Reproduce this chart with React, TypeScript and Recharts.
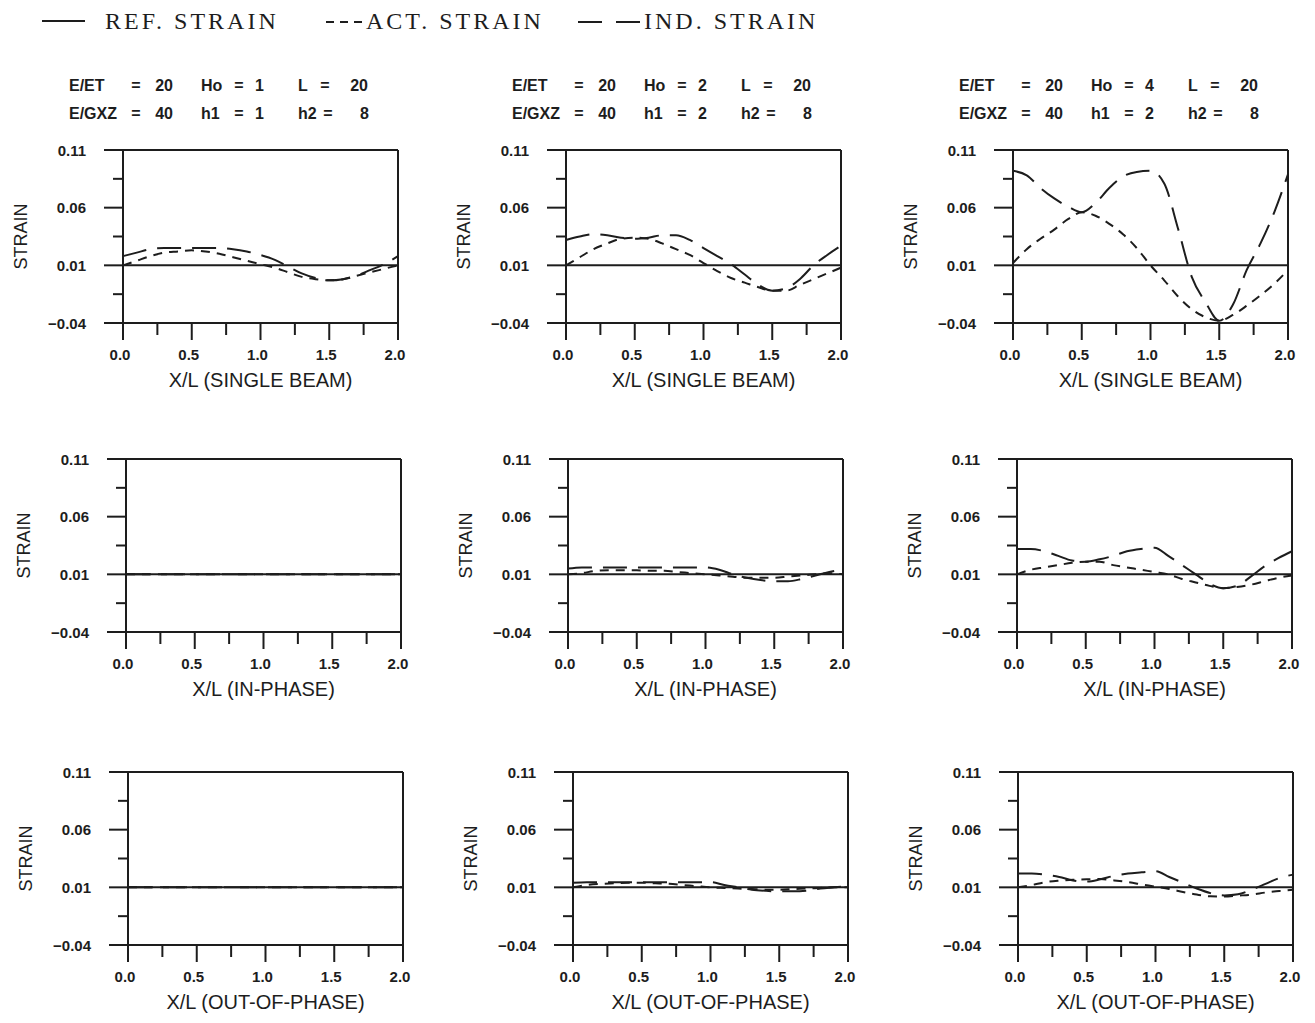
import React from "react";
import { LineChart, Line, XAxis, YAxis, ReferenceLine } from "recharts";

// x/L stations
const xl = [0, 0.1, 0.2, 0.3, 0.4, 0.5, 0.6, 0.7, 0.8, 0.9, 1.0, 1.1, 1.2, 1.3, 1.4, 1.5, 1.6, 1.7, 1.8, 1.9, 2.0];

const refStrain = [0.01, 0.01, 0.01, 0.01, 0.01, 0.01, 0.01, 0.01, 0.01, 0.01, 0.01, 0.01, 0.01, 0.01, 0.01, 0.01, 0.01, 0.01, 0.01, 0.01, 0.01];

// single beam
const actSingle1 = [0.010, 0.014, 0.018, 0.021, 0.022, 0.023, 0.022, 0.020, 0.017, 0.014, 0.011, 0.008, 0.004, 0.000, -0.002, -0.003, -0.002, 0.001, 0.004, 0.007, 0.010];
const indSingle1 = [0.018, 0.021, 0.024, 0.025, 0.025, 0.025, 0.025, 0.025, 0.024, 0.022, 0.019, 0.015, 0.009, 0.003, -0.001, -0.003, -0.002, 0.001, 0.006, 0.011, 0.018];
const actSingle2 = [0.010, 0.017, 0.024, 0.029, 0.033, 0.034, 0.033, 0.029, 0.024, 0.019, 0.012, 0.005, -0.001, -0.005, -0.009, -0.012, -0.012, -0.007, -0.002, 0.003, 0.008];
const indSingle2 = [0.032, 0.035, 0.037, 0.036, 0.034, 0.033, 0.034, 0.036, 0.036, 0.032, 0.025, 0.018, 0.011, 0.002, -0.007, -0.012, -0.010, -0.002, 0.010, 0.019, 0.027];
const actSingle3 = [0.012, 0.024, 0.033, 0.041, 0.050, 0.056, 0.053, 0.046, 0.037, 0.025, 0.010, -0.003, -0.017, -0.028, -0.035, -0.038, -0.033, -0.025, -0.016, -0.006, 0.006];
const indSingle3 = [0.092, 0.088, 0.077, 0.068, 0.061, 0.056, 0.064, 0.077, 0.087, 0.091, 0.092, 0.081, 0.042, 0.000, -0.022, -0.038, -0.024, 0.006, 0.029, 0.056, 0.089];

// in-phase
const actIn1 = [0.01, 0.01, 0.01, 0.01, 0.01, 0.01, 0.01, 0.01, 0.01, 0.01, 0.01, 0.01, 0.01, 0.01, 0.01, 0.01, 0.01, 0.01, 0.01, 0.01, 0.01];
const indIn1 = [0.01, 0.01, 0.01, 0.01, 0.01, 0.01, 0.01, 0.01, 0.01, 0.01, 0.01, 0.01, 0.01, 0.01, 0.01, 0.01, 0.01, 0.01, 0.01, 0.01, 0.01];
const actIn2 = [0.010, 0.011, 0.013, 0.0135, 0.0135, 0.0135, 0.013, 0.013, 0.012, 0.011, 0.010, 0.009, 0.008, 0.007, 0.007, 0.007, 0.008, 0.009, 0.010, 0.011, 0.010];
const indIn2 = [0.015, 0.016, 0.016, 0.016, 0.016, 0.016, 0.016, 0.016, 0.016, 0.016, 0.016, 0.014, 0.010, 0.007, 0.005, 0.004, 0.004, 0.006, 0.009, 0.012, 0.014];
const actIn3 = [0.010, 0.014, 0.016, 0.018, 0.020, 0.021, 0.021, 0.018, 0.016, 0.014, 0.012, 0.010, 0.006, 0.003, 0.000, -0.002, -0.001, 0.001, 0.004, 0.007, 0.009];
const indIn3 = [0.032, 0.032, 0.030, 0.026, 0.022, 0.021, 0.023, 0.026, 0.030, 0.032, 0.033, 0.026, 0.018, 0.010, 0.002, -0.002, 0.000, 0.008, 0.017, 0.024, 0.030];

// out-of-phase
const actOut1 = [0.01, 0.01, 0.01, 0.01, 0.01, 0.01, 0.01, 0.01, 0.01, 0.01, 0.01, 0.01, 0.01, 0.01, 0.01, 0.01, 0.01, 0.01, 0.01, 0.01, 0.01];
const indOut1 = [0.01, 0.01, 0.01, 0.01, 0.01, 0.01, 0.01, 0.01, 0.01, 0.01, 0.01, 0.01, 0.01, 0.01, 0.01, 0.01, 0.01, 0.01, 0.01, 0.01, 0.01];
const actOut2 = [0.010, 0.012, 0.013, 0.0135, 0.014, 0.014, 0.0135, 0.013, 0.012, 0.011, 0.010, 0.0095, 0.009, 0.0085, 0.008, 0.008, 0.0085, 0.009, 0.0095, 0.010, 0.010];
const indOut2 = [0.014, 0.0145, 0.0145, 0.0145, 0.0145, 0.0145, 0.0145, 0.0145, 0.0145, 0.0145, 0.0145, 0.012, 0.010, 0.008, 0.007, 0.0065, 0.0065, 0.007, 0.009, 0.010, 0.011];
const actOut3 = [0.010, 0.012, 0.0145, 0.0158, 0.0166, 0.017, 0.0172, 0.016, 0.0145, 0.0125, 0.0105, 0.0085, 0.006, 0.0037, 0.0022, 0.002, 0.0028, 0.0037, 0.0055, 0.0068, 0.008];
const indOut3 = [0.022, 0.022, 0.021, 0.019, 0.016, 0.015, 0.017, 0.020, 0.022, 0.023, 0.024, 0.019, 0.014, 0.009, 0.005, 0.003, 0.004, 0.008, 0.013, 0.018, 0.021];

// axis ticks / labels
const xTicks = [0, 0.25, 0.5, 0.75, 1, 1.25, 1.5, 1.75, 2];
const xTickLabels = ["0.0", "", "0.5", "", "1.0", "", "1.5", "", "2.0"];
const yTicks = [-0.04, -0.015, 0.01, 0.035, 0.06, 0.085, 0.11];
const yTickLabels = ["\u22120.04", "", "0.01", "", "0.06", "", "0.11"];
const xTitles = ["X/L (SINGLE BEAM)", "X/L (IN-PHASE)", "X/L (OUT-OF-PHASE)"];

// parameters above each column
const eEt = [20, 20, 20];
const hO = [1, 2, 4];
const lVal = [20, 20, 20];
const eGxz = [40, 40, 40];
const h1 = [1, 2, 2];
const h2 = [8, 8, 8];

const seriesGrid = [
    [[actSingle1, indSingle1], [actSingle2, indSingle2], [actSingle3, indSingle3]],
    [[actIn1, indIn1], [actIn2, indIn2], [actIn3, indIn3]],
    [[actOut1, indOut1], [actOut2, indOut2], [actOut3, indOut3]],
];

// layout (the scan is slightly skewed, so lower rows sit a bit to the right)
const plotLefts = [
    [123, 566, 1013],
    [126, 568, 1017],
    [128, 573, 1018],
];
const plotTops = [150, 459, 772];
const PW = 275;
const PH = 173;
const Y_W = 110;
const M_LEFT = 5;
const M_TOP = 10;
const M_RIGHT = 12;
const X_H = 70;

const INK = "#1d1d1d";
const SANS = "'Liberation Sans', Arial, sans-serif";

const XTick = (props: any) => {
    const { x, y, payload } = props;
    const i = xTicks.findIndex((t) => Math.abs(t - payload.value) < 1e-6);
    const major = i % 2 === 0;
    return (
        <g>
            <line x1={x} y1={y} x2={x} y2={y + (major ? 17 : 12)} stroke={INK} strokeWidth={2} />
            {major && (
                <text x={x - 3} y={y + 31} textAnchor="middle" dominantBaseline="central"
                    fontFamily={SANS} fontSize={15} fontWeight="bold" fill={INK}>
                    {xTickLabels[i]}
                </text>
            )}
        </g>
    );
};

const YTick = (props: any) => {
    const { x, y, payload } = props;
    const i = yTicks.findIndex((t) => Math.abs(t - payload.value) < 1e-6);
    const major = i % 2 === 0;
    return (
        <g>
            <line x1={x - (major ? 19 : 10)} y1={y} x2={x} y2={y} stroke={INK} strokeWidth={2} />
            {major && (
                <text x={x - 37} y={y} textAnchor="end" dominantBaseline="central"
                    fontFamily={SANS} fontSize={15} fontWeight="bold" fill={INK}>
                    {yTickLabels[i]}
                </text>
            )}
        </g>
    );
};

const strainLabel = (props: any) => {
    const vb = props.viewBox || { x: M_LEFT, y: M_TOP, width: Y_W, height: PH };
    const cx = vb.x + vb.width - 102;
    const cy = vb.y + vb.height / 2;
    return (
        <text x={cx} y={cy} transform={`rotate(-90, ${cx}, ${cy})`} textAnchor="middle"
            dominantBaseline="central" fontFamily={SANS} fontSize={18} fill={INK}>
            STRAIN
        </text>
    );
};

const xTitle = (title: string) => (props: any) => {
    const vb = props.viewBox || { x: M_LEFT + Y_W, y: M_TOP + PH, width: PW, height: X_H };
    return (
        <text x={vb.x + vb.width / 2} y={vb.y + 57} textAnchor="middle" dominantBaseline="central"
            fontFamily={SANS} fontSize={20} fill={INK}>
            {title}
        </text>
    );
};

function Panel({ row, col }: { row: number; col: number }) {
    const [act, ind] = seriesGrid[row][col];
    const rows = xl.map((x, i) => ({ x, ref: refStrain[i], act: act[i], ind: ind[i] }));
    const left = plotLefts[row][col] - M_LEFT - Y_W;
    const top = plotTops[row] - M_TOP;
    return (
        <div style={{ position: "absolute", left, top }}>
            <LineChart
                width={M_LEFT + Y_W + PW + M_RIGHT}
                height={M_TOP + PH + X_H + 2}
                data={rows}
                margin={{ top: M_TOP, right: M_RIGHT, bottom: 2, left: M_LEFT }}
            >
                <XAxis
                    type="number"
                    dataKey="x"
                    domain={[0, 2]}
                    ticks={xTicks}
                    interval={0}
                    tickSize={0}
                    tickMargin={0}
                    tickLine={false}
                    tick={XTick}
                    axisLine={{ stroke: INK, strokeWidth: 2 }}
                    height={X_H}
                    label={xTitle(xTitles[row])}
                />
                <YAxis
                    type="number"
                    domain={[-0.04, 0.11]}
                    ticks={yTicks}
                    interval={0}
                    allowDataOverflow
                    width={Y_W}
                    tickSize={0}
                    tickMargin={0}
                    tickLine={false}
                    tick={YTick}
                    axisLine={{ stroke: INK, strokeWidth: 2 }}
                    label={strainLabel}
                />
                <ReferenceLine y={0.11} stroke={INK} strokeWidth={2} />
                <ReferenceLine x={2} stroke={INK} strokeWidth={2} />

                {/* reference strain: solid */}
                <Line type="monotone" dataKey="ref" stroke={INK} strokeWidth={2}
                    dot={false} activeDot={false} isAnimationActive={false} />
                {/* actual strain: short dashes */}
                <Line type="monotone" dataKey="act" stroke={INK} strokeWidth={2} strokeDasharray="9 7"
                    dot={false} activeDot={false} isAnimationActive={false} />
                {/* induced strain: long dashes */}
                <Line type="monotone" dataKey="ind" stroke={INK} strokeWidth={2} strokeDasharray="24 11"
                    dot={false} activeDot={false} isAnimationActive={false} />
            </LineChart>
        </div>
    );
}

function Params({ col }: { col: number }) {
    const p = plotLefts[0][col];
    const t = { fontFamily: SANS, fontSize: 16, fontWeight: "bold" as const, fill: INK };
    return (
        <g>
            <text x={p - 54} y={85} dominantBaseline="central" {...t}>E/ET</text>
            <text x={p + 13} y={85} textAnchor="middle" dominantBaseline="central" {...t}>=</text>
            <text x={p + 50} y={85} textAnchor="end" dominantBaseline="central" {...t}>{eEt[col]}</text>
            <text x={p + 78} y={85} dominantBaseline="central" {...t}>Ho</text>
            <text x={p + 116} y={85} textAnchor="middle" dominantBaseline="central" {...t}>=</text>
            <text x={p + 141} y={85} textAnchor="end" dominantBaseline="central" {...t}>{hO[col]}</text>
            <text x={p + 175} y={85} dominantBaseline="central" {...t}>L</text>
            <text x={p + 202} y={85} textAnchor="middle" dominantBaseline="central" {...t}>=</text>
            <text x={p + 245} y={85} textAnchor="end" dominantBaseline="central" {...t}>{lVal[col]}</text>

            <text x={p - 54} y={113} dominantBaseline="central" {...t}>E/GXZ</text>
            <text x={p + 13} y={113} textAnchor="middle" dominantBaseline="central" {...t}>=</text>
            <text x={p + 50} y={113} textAnchor="end" dominantBaseline="central" {...t}>{eGxz[col]}</text>
            <text x={p + 78} y={113} dominantBaseline="central" {...t}>h1</text>
            <text x={p + 116} y={113} textAnchor="middle" dominantBaseline="central" {...t}>=</text>
            <text x={p + 141} y={113} textAnchor="end" dominantBaseline="central" {...t}>{h1[col]}</text>
            <text x={p + 175} y={113} dominantBaseline="central" {...t}>h2</text>
            <text x={p + 205} y={113} textAnchor="middle" dominantBaseline="central" {...t}>=</text>
            <text x={p + 246} y={113} textAnchor="end" dominantBaseline="central" {...t}>{h2[col]}</text>
        </g>
    );
}

export default function App() {
    // typewriter-like serif for the legend line
    const typed = { fontFamily: "'Liberation Serif', 'DejaVu Serif', serif", fontSize: 24, letterSpacing: 3, fill: INK };
    return (
        <div style={{ position: "absolute", left: 0, top: 0, width: 1315, height: 1023, background: "#fff", overflow: "hidden" }}>
            <svg width={1315} height={130} style={{ position: "absolute", left: 0, top: 0 }}>
                {/* legend */}
                <line x1={42} y1={21} x2={85} y2={21} stroke={INK} strokeWidth={2} />
                <text x={105} y={21} dominantBaseline="central" {...typed}>REF. STRAIN</text>
                <line x1={326} y1={22} x2={362} y2={22} stroke={INK} strokeWidth={2} strokeDasharray="8 6" />
                <text x={366} y={21} dominantBaseline="central" {...typed}>ACT. STRAIN</text>
                <line x1={578} y1={22} x2={640} y2={22} stroke={INK} strokeWidth={2} strokeDasharray="24 14" />
                <text x={644} y={21} dominantBaseline="central" {...typed}>IND. STRAIN</text>

                {[0, 1, 2].map((c) => <Params key={c} col={c} />)}
            </svg>
            {[0, 1, 2].map((r) =>
                [0, 1, 2].map((c) => <Panel key={`${r}-${c}`} row={r} col={c} />)
            )}
        </div>
    );
}
